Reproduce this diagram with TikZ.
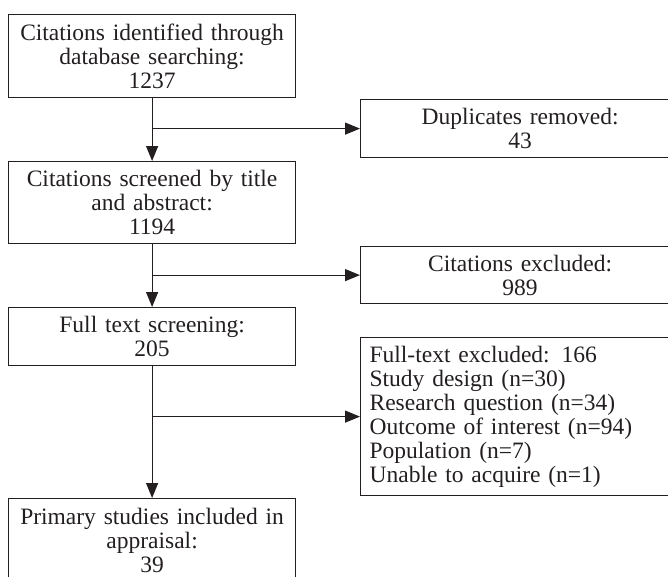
\documentclass[tikz,border=0pt]{standalone}
\usepackage{fontspec}
\setmainfont{Liberation Serif}
\usetikzlibrary{arrows.meta}
\definecolor{inkgray}{RGB}{35,31,32}
\tikzset{
		flow box/.style={draw=inkgray,line width=1.2pt,rectangle,inner sep=0pt,
			anchor=north west,text=inkgray,font=\fontsize{23.5}{24}\selectfont},
		main box/.style={flow box,minimum width=287pt,text width=287pt,align=center},
		side box/.style={flow box,minimum width=319pt,text width=319pt,align=center},
		list box/.style={flow box,minimum width=319pt,text width=301pt,inner xsep=9pt,align=left},
		flow line/.style={->,draw=inkgray,line width=1.2pt}
	}

\begin{document}
\begin{tikzpicture}[x=1pt,y=-1pt,>={Triangle[length=15pt,width=12pt]}]
				\useasboundingbox (0,0) rectangle (668,576);
				\clip (0,0) rectangle (668,576);

				\node[main box,minimum height=83pt] (c0) at (8,14)  {Citations identified through\\database searching:\\1237};
				\node[main box,minimum height=82pt] (c1) at (8,161) {Citations screened by title\\and abstract:\\1194};
				\node[main box,minimum height=58pt] (c2) at (8,307) {Full text screening:\\205};
				\node[main box,minimum height=83pt] (c3) at (8,498) {Primary studies included in\\appraisal:\\39};

				\node[side box,minimum height=58pt]  (x0) at (360,99)  {Duplicates removed:\\43};
				\node[side box,minimum height=57pt]  (x1) at (360,246) {Citations excluded:\\989};
				\node[list box,minimum height=158pt] (x2) at (360,337) {Full-text excluded: 166\\Study design (n=30)\\Research question (n=34)\\Outcome of interest (n=94)\\Population (n=7)\\Unable to acquire (n=1)};

				\path (c0) edge[flow line] (c1);
				\path (c1) edge[flow line] (c2);
				\path (c2) edge[flow line] (c3);
				\path (c0.south |- x0.west) edge[flow line] (x0.west);
				\path (c1.south |- x1.west) edge[flow line] (x1.west);
				\path (c2.south |- x2.west) edge[flow line] (x2.west);
			\end{tikzpicture}
\end{document}
